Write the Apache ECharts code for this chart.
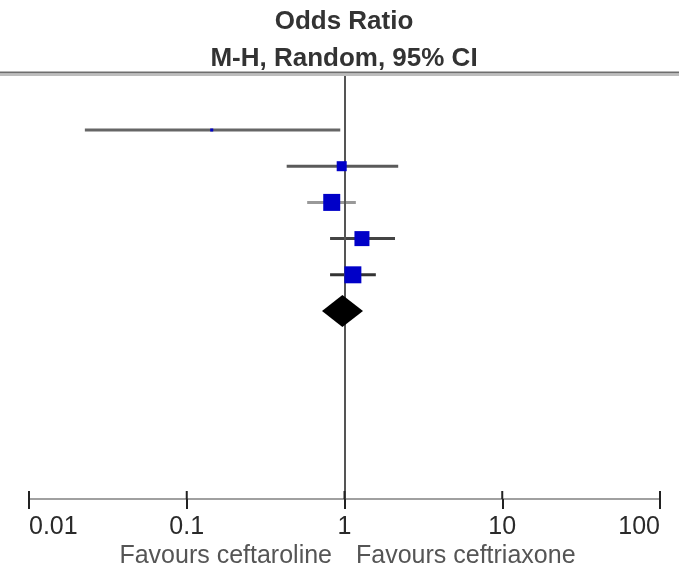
<!DOCTYPE html>
<html><head><meta charset="utf-8">
<script src="https://cdn.jsdelivr.net/npm/echarts@6/dist/echarts.min.js"></script>
<style>html,body{margin:0;padding:0;background:#fff}#c{width:679px;height:566px}</style>
</head><body><div id="c"></div>
<script>
// ---- data ----
const studyRows = [1, 2, 3, 4, 5];
const oddsRatio = [0.144, 0.96, 0.83, 1.29, 1.13];
const ciLow = [0.0226, 0.43, 0.58, 0.81, 0.81];
const ciHigh = [0.94, 2.19, 1.18, 2.09, 1.58];
const weightPct = [1.0, 11.0, 31.7, 24.7, 31.6];
const pooledRow = [6];
const pooledOR = [0.97];
const pooledLow = [0.72];
const pooledHigh = [1.31];
const tickValues = [0.01, 0.1, 1, 10, 100];
const headerLines = ['Odds Ratio', 'M-H, Random, 95% CI'];
const favoursLeft = 'Favours ceftaroline';
const favoursRight = 'Favours ceftriaxone';

// ---- chart ----
const chart = echarts.init(document.getElementById('c'), null, {renderer: 'canvas'});
const FONT = '"Liberation Sans", Arial, sans-serif';
const lineColors = ['#666', '#5a5a5a', '#999', '#444', '#333'];
const Y_MIN = -0.547, Y_MAX = 11.193;

const ciData = studyRows.map((r, i) => [ciLow[i], ciHigh[i], r, i]);
const ptData = studyRows.map((r, i) => ({value: [oddsRatio[i], r], symbolSize: Math.sqrt(weightPct[i]) * 3.02}));
const diaData = pooledRow.map((r, i) => [pooledLow[i], pooledOR[i], pooledHigh[i], r]);
const tickData = tickValues.map(v => [v, Y_MAX]);

chart.setOption({
  animation: false,
  backgroundColor: '#fff',
  grid: {left: 29, right: 19, top: 74, bottom: 67, containLabel: false},
  xAxis: {
    type: 'log', logBase: 10, min: tickValues[0], max: tickValues[tickValues.length - 1],
    position: 'bottom',
    splitLine: {show: false}, minorTick: {show: false},
    axisLine: {show: true, onZero: false, lineStyle: {color: '#a0a0a0', width: 2}},
    axisTick: {show: true, inside: false, length: 10, lineStyle: {color: '#222', width: 2}},
    axisLabel: {
      show: true, margin: 16, fontFamily: FONT, fontSize: 25, color: '#2a2a2a',
      alignMinLabel: 'left', alignMaxLabel: 'right',
      formatter: v => String(tickValues.reduce((a, b) => Math.abs(Math.log10(b) - Math.log10(v)) < Math.abs(Math.log10(a) - Math.log10(v)) ? b : a))
    }
  },
  yAxis: {type: 'value', inverse: true, min: Y_MIN, max: Y_MAX, show: false},
  graphic: [
    {type: 'line', shape: {x1: 0, y1: 72.5, x2: 679, y2: 72.5}, style: {stroke: '#6e6e6e', lineWidth: 2}, z: 10},
    {type: 'line', shape: {x1: 0, y1: 75, x2: 679, y2: 75}, style: {stroke: '#bdbdbd', lineWidth: 2}, z: 10},
    {type: 'text', x: 344, y: 22, style: {text: headerLines[0], fontFamily: FONT, fontSize: 26, fontWeight: 'bold', fill: '#333', align: 'center', verticalAlign: 'middle'}},
    {type: 'text', x: 344, y: 59, style: {text: headerLines[1], fontFamily: FONT, fontSize: 26, fontWeight: 'bold', fill: '#333', align: 'center', verticalAlign: 'middle'}},
    {type: 'text', x: 332, y: 556, style: {text: favoursLeft, fontFamily: FONT, fontSize: 25, fill: '#555', align: 'right', verticalAlign: 'middle'}},
    {type: 'text', x: 356, y: 556, style: {text: favoursRight, fontFamily: FONT, fontSize: 25, fill: '#555', align: 'left', verticalAlign: 'middle'}}
  ],
  series: [
    {
      // upper half of the axis ticks (crossing the axis line)
      type: 'custom', data: tickData, encode: {x: 0, y: 1}, z: 8, silent: true,
      renderItem: (params, api) => {
        const p = api.coord([api.value(0), api.value(1)]);
        return {type: 'line', shape: {x1: p[0], y1: p[1], x2: p[0], y2: p[1] - 8},
          style: {stroke: '#222', lineWidth: 2}};
      }
    },
    {
      type: 'custom', data: ciData, encode: {x: [0, 1], y: 2}, z: 3,
      renderItem: (params, api) => {
        const a = api.coord([api.value(0), api.value(2)]);
        const b = api.coord([api.value(1), api.value(2)]);
        return {type: 'line', shape: {x1: a[0], y1: a[1], x2: b[0], y2: b[1]},
          style: {stroke: lineColors[api.value(3)], lineWidth: 3}};
      }
    },
    {
      type: 'scatter', data: ptData, symbol: 'rect', z: 5,
      itemStyle: {color: '#0000c8', opacity: 1},
      markLine: {
        silent: true, symbol: 'none', animation: false,
        label: {show: false},
        lineStyle: {color: '#555', width: 2, type: 'solid'},
        data: [{xAxis: 1}]
      }
    },
    {
      type: 'custom', data: diaData, encode: {x: [0, 1, 2], y: 3}, z: 6,
      renderItem: (params, api) => {
        const l = api.coord([api.value(0), api.value(3)]);
        const m = api.coord([api.value(1), api.value(3)]);
        const r = api.coord([api.value(2), api.value(3)]);
        const h = 16;
        return {type: 'polygon', shape: {points: [[l[0], l[1]], [m[0], m[1] - h], [r[0], r[1]], [m[0], m[1] + h]]},
          style: {fill: '#000'}};
      }
    }
  ]
});
</script>
</body></html>
